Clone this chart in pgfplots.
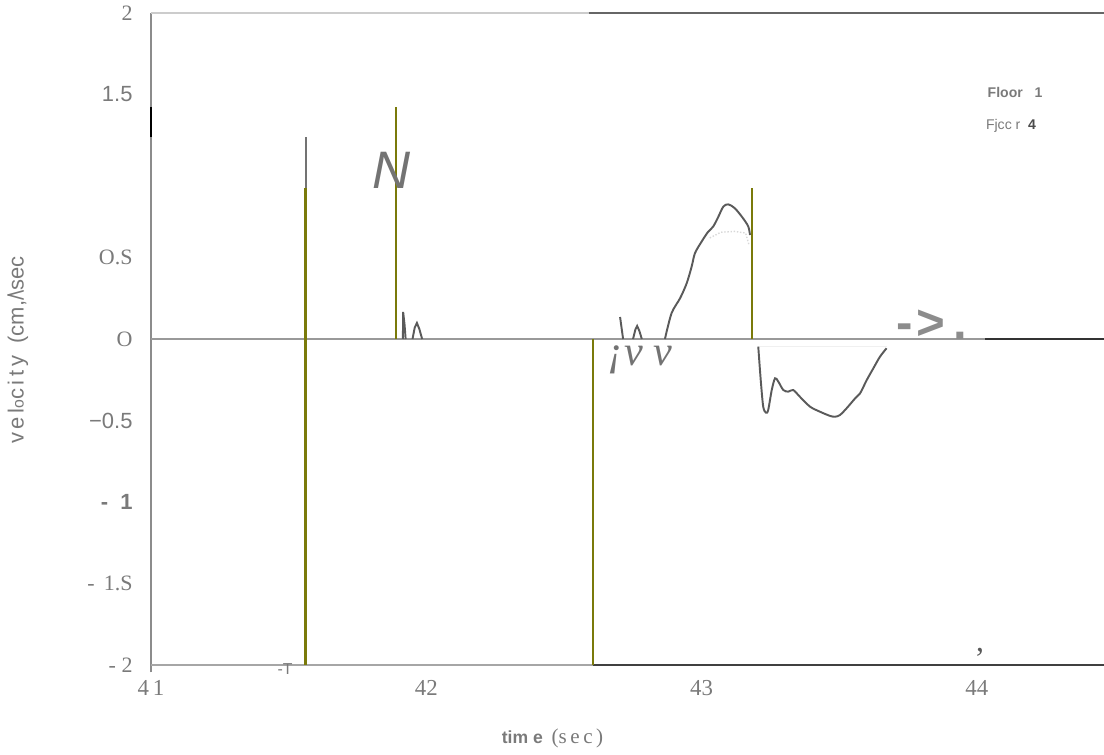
\documentclass[border=0pt]{standalone}
\usepackage{fontspec}
\setmainfont{Liberation Serif}
\newfontfamily\arialf{Liberation Sans}
\usepackage{pgfplots}
\pgfplotsset{compat=1.18}
\definecolor{olv}{HTML}{7A7A0A}
\definecolor{txt}{HTML}{7A7A7A}
\definecolor{crv}{HTML}{5A5A5A}
\definecolor{faint}{HTML}{D8D8D8}

\begin{document}
\begin{tikzpicture}[x=1cm,y=1cm]
% 1 px of the reference = 0.02 cm
\path[use as bounding box] (0,0) rectangle (22.08,15.1);
\begin{axis}[at={(3.02cm,1.8cm)},anchor=south west,scale only axis,
  width=19.06cm,height=13.04cm,
  xmin=41,xmax=44.462,ymin=-2,ymax=2,clip=false,
  axis line style={draw=none},tick style={draw=none},
  xtick={41,42,43,44},
  xticklabels={4\,1,42,43,44},
  xticklabel style={font=\fontsize{13}{15}\selectfont,text=txt,yshift=-5pt},
  ytick={-2,-1.5,-1,-0.5,0,0.5,1.5,2},
  yticklabels={{- 2},{-\, 1.S},{\arialf\bfseries -\ \ 1},{\arialf −0.5},{O},{O.S},{\arialf 1.5},{2}},
  yticklabel style={font=\fontsize{12.5}{14}\selectfont,text=txt,xshift=-7pt}]

% frame pieces
\draw[color=black!45,line width=0.6pt] (axis cs:41,-2.045) -- (axis cs:41,2);
\draw[color=black,line width=1pt] (axis cs:41,1.239) -- (axis cs:41,1.423);
\draw[color=black!20,line width=1.1pt] (axis cs:41,2) -- (axis cs:42.59,2);
\draw[color=black!60,line width=1.2pt] (axis cs:42.59,2) -- (axis cs:44.462,2);
\draw[color=black!35,line width=0.9pt] (axis cs:41,-2) -- (axis cs:42.606,-2);
\draw[color=black!75,line width=0.9pt] (axis cs:42.606,-2) -- (axis cs:44.462,-2);
\draw[color=black!40,line width=1pt] (axis cs:41,0) -- (axis cs:44.03,0);
\draw[color=black!80,line width=1.2pt] (axis cs:44.03,0) -- (axis cs:44.462,0);

% vertical traces
\addplot[color=black!55,line width=0.8pt] coordinates {(41.563,1.239) (41.563,0.926)};
\addplot[color=olv,line width=1.7pt] coordinates {(41.563,0.926) (41.563,-2)};
\addplot[color=olv,line width=0.8pt] coordinates {(41.890,1.423) (41.890,0)};
\addplot[color=olv,line width=0.8pt] coordinates {(42.606,0) (42.606,-2)};
\addplot[color=olv,line width=0.8pt] coordinates {(43.183,0.926) (43.183,0)};

% faint floor 4 traces
\addplot[color=faint,line width=0.8pt,densely dotted] coordinates {
 (43.03,0.62) (43.07,0.655) (43.12,0.66) (43.16,0.65) (43.172,0.58)};
\addplot[color=black!6,line width=0.8pt] coordinates {(43.206,-0.047) (43.672,-0.047)};

% floor 1 velocity
\addplot[color=crv,line width=1.1pt] coordinates {
 (41.915,0) (41.916,0.166) (41.921,0.09) (41.925,0)};
\addplot[color=crv,line width=1.1pt] coordinates {
 (41.950,0) (41.958,0.07) (41.966,0.098) (41.975,0.06) (41.985,0)};
\addplot[color=crv,line width=1.1pt] coordinates {
 (42.704,0.135) (42.715,0)};
\addplot[color=crv,line width=1.1pt] coordinates {
 (42.751,0) (42.760,0.06) (42.766,0.08) (42.774,0.05) (42.783,0)};
\addplot[color=crv,line width=1.1pt,smooth,tension=0.5] coordinates {
 (42.867,0) (42.891,0.158) (42.922,0.250) (42.946,0.342) (42.964,0.444)
 (42.976,0.526) (43.000,0.597) (43.024,0.658) (43.042,0.689) (43.061,0.750)
 (43.079,0.812) (43.097,0.826) (43.121,0.802) (43.151,0.740) (43.170,0.689)
 (43.176,0.638)};
\addplot[color=crv,line width=1.1pt,smooth,tension=0.5] coordinates {
 (43.206,-0.047) (43.215,-0.252) (43.224,-0.415) (43.234,-0.452) (43.242,-0.436)
 (43.255,-0.313) (43.267,-0.241) (43.279,-0.262) (43.297,-0.313) (43.315,-0.323)
 (43.333,-0.313) (43.357,-0.354) (43.394,-0.415) (43.430,-0.446) (43.467,-0.472)
 (43.485,-0.477) (43.503,-0.466) (43.527,-0.425) (43.558,-0.364) (43.576,-0.333)
 (43.600,-0.252) (43.624,-0.180) (43.648,-0.109) (43.672,-0.057)};

% stray scanned marks
\node[text=black!55,font=\arialf\itshape\fontsize{30}{32}\selectfont] at (axis cs:41.872,1.037) {N};
\node[text=black!55,font=\itshape\fontsize{24}{26}\selectfont] at (axis cs:42.776,-0.13) {¡v v};
\node[anchor=base west,inner sep=0pt,text=black!45,font=\arialf\bfseries\fontsize{28}{30}\selectfont] at (axis cs:43.706,-0.006) {-\kern2pt>\kern5pt.};
\end{axis}

\node[text=txt,font=\arialf\fontsize{9}{10}\selectfont] at (5.7,1.72) {-T};
\node[text=black!65,font=\fontsize{18}{20}\selectfont] at (19.6,2.05) {,};
\node[text=txt,font=\arialf\fontsize{8}{10}\selectfont] at (20.3,13.26) {\bfseries Floor\ \ \ 1};
\node[text=txt,font=\arialf\fontsize{8}{10}\selectfont] at (20.22,12.58) {Fjcc r\ \ {\bfseries\color{black!70}4}};
\node[text=txt] at (11.05,0.34) {{\arialf\bfseries\fontsize{10}{12}\selectfont tim e}\ \ {\fontsize{12}{14}\selectfont (s\,e\,c\,)}};
\node[text=txt,rotate=90,font=\arialf\fontsize{12.5}{15}\selectfont] at (0.36,8.1) {v\,e\,l{\fontsize{9}{10}\selectfont o}c\,i\,t\,y\ \ (cm,/\hspace{-1pt}\textbackslash sec};
\end{tikzpicture}
\end{document}
